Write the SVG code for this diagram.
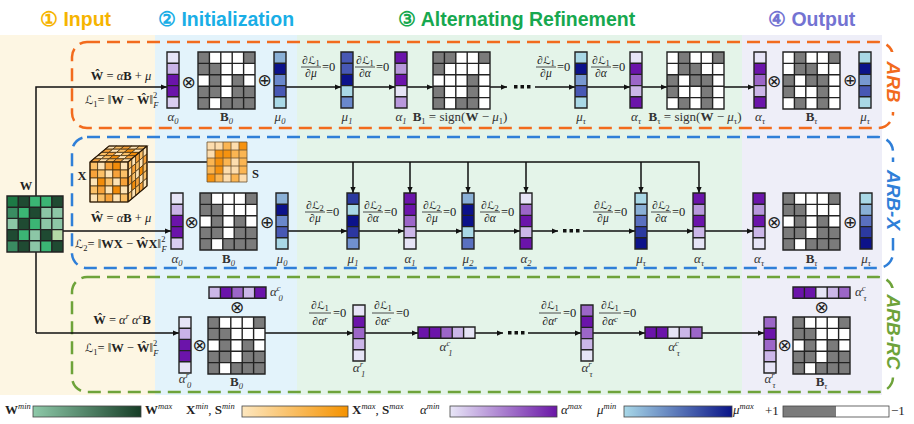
<svg xmlns="http://www.w3.org/2000/svg" xmlns:xlink="http://www.w3.org/1999/xlink" width="914" height="424" viewBox="0 0 914 424">
<style>
.ttl{font-family:"Liberation Sans",Arial,sans-serif;font-weight:bold;font-size:19.5px}
.m{font-family:"Liberation Serif","DejaVu Serif",serif;font-size:12.5px;fill:#222}
.fn{font-family:"Liberation Serif","DejaVu Serif",serif;font-size:11.5px;fill:#222;text-anchor:middle}
.lb{font-family:"Liberation Serif","DejaVu Serif",serif;font-style:italic;font-size:13px;fill:#333;text-anchor:middle}
.lg{font-family:"Liberation Serif","DejaVu Serif",serif;font-size:13px;fill:#222}
.i{font-style:italic}
.b{font-weight:bold}
.bn{font-weight:bold;font-style:normal}
.L{font-family:"DejaVu Serif","DejaVu Sans",serif;font-style:normal;font-weight:normal;font-size:0.92em}
.s{font-size:8.5px}
.fl{stroke:#222;stroke-width:0.8}
.grid{fill:none;stroke:#222;stroke-width:1.4}
.ln{fill:none;stroke:#111;stroke-width:1.5}
.op{font-family:"DejaVu Sans",sans-serif;font-size:17px;fill:#222;text-anchor:middle;dominant-baseline:central}
.box{fill:none;stroke-width:2.5;stroke-dasharray:13 7}
.tag{font-family:"Liberation Sans",Arial,sans-serif;font-weight:bold;font-style:italic;font-size:19px;text-anchor:middle;dominant-baseline:central}
.cube rect{vector-effect:non-scaling-stroke;stroke:#4a3412;stroke-width:0.8}
</style>
<defs>
<marker id="ah" viewBox="0 0 8 8" refX="8" refY="4" markerWidth="6" markerHeight="6" orient="auto" markerUnits="userSpaceOnUse"><path d="M0,0.5 L8,4 L0,7.5z" fill="#111"/></marker>
<path id="cg" class="grid" d="M0,0H12V56H0Z M0,11.2H12 M0,22.4H12 M0,33.6H12 M0,44.8H12"/>
<path id="rg" class="grid" d="M0,0H57V11.2H0Z M11.4,0V11.2 M22.8,0V11.2 M34.2,0V11.2 M45.6,0V11.2"/>
<path id="mg" class="grid" d="M0,0H57V57H0Z M11.4,0V57 M22.8,0V57 M34.2,0V57 M45.6,0V57 M0,11.4H57 M0,22.8H57 M0,34.2H57 M0,45.6H57"/>
<g id="bA"><rect width="57" height="57" fill="#fff"/><path fill="#7b7b7b" d="M0,0h11.4v11.4h-11.4z M45.6,0h11.4v11.4h-11.4z M0,11.4h22.8v11.4h-22.8z M11.4,22.8h11.4v11.4h-11.4z M34.2,22.8h11.4v11.4h-11.4z M0,34.2h22.8v11.4h-22.8z M34.2,34.2h22.8v11.4h-22.8z M0,45.6h11.4v11.4h-11.4z M22.8,45.6h34.2v11.4h-34.2z"/><use href="#mg"/></g>
<g id="bB1"><rect width="57" height="57" fill="#fff"/><path fill="#7b7b7b" d="M0,0h22.8v11.4h-22.8z M45.6,0h11.4v11.4h-11.4z M0,11.4h11.4v11.4h-11.4z M34.2,22.8h11.4v11.4h-11.4z M0,34.2h11.4v11.4h-11.4z M34.2,34.2h11.4v11.4h-11.4z M0,45.6h11.4v11.4h-11.4z M22.8,45.6h22.8v11.4h-22.8z"/><use href="#mg"/></g>
<g id="bBt"><rect width="57" height="57" fill="#fff"/><path fill="#7b7b7b" d="M11.4,0h11.4v11.4h-11.4z M45.6,0h11.4v11.4h-11.4z M11.4,11.4h22.8v11.4h-22.8z M0,22.8h11.4v11.4h-11.4z M22.8,22.8h22.8v11.4h-22.8z M0,34.2h11.4v11.4h-11.4z M34.2,34.2h11.4v11.4h-11.4z M11.4,45.6h11.4v11.4h-11.4z M34.2,45.6h11.4v11.4h-11.4z"/><use href="#mg"/></g>
<linearGradient id="gW"><stop offset="0" stop-color="#8ec9a9"/><stop offset="1" stop-color="#163d26"/></linearGradient>
<linearGradient id="gX"><stop offset="0" stop-color="#fde7bf"/><stop offset="1" stop-color="#f59200"/></linearGradient>
<linearGradient id="gA"><stop offset="0" stop-color="#e8e6f7"/><stop offset="1" stop-color="#6a16a6"/></linearGradient>
<linearGradient id="gM"><stop offset="0" stop-color="#a8d8e8"/><stop offset="1" stop-color="#0a1488"/></linearGradient>
</defs>

<!-- backgrounds -->
<rect x="0" y="35" width="155" height="360" fill="#fdf6e3"/>
<rect x="155" y="35" width="142" height="360" fill="#e3f3fb"/>
<rect x="297" y="35" width="445" height="360" fill="#e4f4e9"/>
<rect x="742" y="35" width="140" height="360" fill="#eeeef8"/>

<!-- titles -->
<text class="ttl" x="40" y="26" fill="#f6b400">① Input</text>
<text class="ttl" x="158" y="26" fill="#1aaee6">② Initialization</text>
<text class="ttl" x="398" y="26" fill="#17a84f">③ Alternating Refinement</text>
<text class="ttl" x="768" y="26" fill="#7373d2">④ Output</text>

<!-- dashed boxes -->
<g id="box-arb"><rect class="box" x="72" y="42" width="821" height="86" rx="15" stroke="#f26b1d"/><rect x="884" y="52" width="18" height="60" fill="#fff"/><text class="tag" transform="translate(893,82) rotate(90)" fill="#f26b1d">ARB</text></g>
<g id="box-arbx"><rect class="box" x="72" y="137" width="821" height="131" rx="15" stroke="#2f7fd8"/><rect x="884" y="162" width="18" height="76" fill="#fff"/><text class="tag" transform="translate(893,200) rotate(90)" fill="#2f7fd8">ARB-X</text></g>
<g id="box-arbrc"><rect class="box" x="72" y="277" width="821" height="115" rx="15" stroke="#6ea33a"/><rect x="884" y="288" width="18" height="88" fill="#fff"/><text class="tag" transform="translate(893,332) rotate(90)" fill="#6ea33a">ARB-RC</text></g>

<!-- connectors -->
<g id="connectors">
<path class="ln" d="M36,333 V87 H167" marker-end="url(#ah)"/>
<path class="ln" d="M36,333 H179" marker-end="url(#ah)"/>
<path class="ln" d="M63,231 H171" marker-end="url(#ah)"/>
<path class="ln" d="M286,87 H341" marker-end="url(#ah)"/>
<path class="ln" d="M353,87 H395" marker-end="url(#ah)"/>
<path class="ln" d="M407,87 H433" marker-end="url(#ah)"/>
<path class="ln" d="M490,87 H507" marker-end="url(#ah)"/>
<path class="ln" d="M535,87 H575" marker-end="url(#ah)"/>
<path class="ln" d="M587,87 H630" marker-end="url(#ah)"/>
<path class="ln" d="M642,87 H667" marker-end="url(#ah)"/>
<path class="ln" d="M724,87 H754" marker-end="url(#ah)"/>
<g fill="#111"><rect x="514" y="85" width="3.5" height="3.5"/><rect x="520.5" y="85" width="3.5" height="3.5"/><rect x="527" y="85" width="3.5" height="3.5"/></g>

<path class="ln" d="M148,162 H699 V193" marker-end="url(#ah)"/>
<path class="ln" d="M353,162 V193" marker-end="url(#ah)"/>
<path class="ln" d="M410,162 V193" marker-end="url(#ah)"/>
<path class="ln" d="M468,162 V193" marker-end="url(#ah)"/>
<path class="ln" d="M526,162 V193" marker-end="url(#ah)"/>
<path class="ln" d="M641,162 V193" marker-end="url(#ah)"/>
<path class="ln" d="M287,231 H347" marker-end="url(#ah)"/>
<path class="ln" d="M359,231 H404" marker-end="url(#ah)"/>
<path class="ln" d="M416,231 H462" marker-end="url(#ah)"/>
<path class="ln" d="M474,231 H520" marker-end="url(#ah)"/>
<path class="ln" d="M532,231 H558" marker-end="url(#ah)"/>
<path class="ln" d="M583,231 H635" marker-end="url(#ah)"/>
<path class="ln" d="M647,231 H693" marker-end="url(#ah)"/>
<path class="ln" d="M705,231 H753" marker-end="url(#ah)"/>
<g fill="#111"><rect x="563" y="229" width="3.5" height="3.5"/><rect x="569.5" y="229" width="3.5" height="3.5"/><rect x="576" y="229" width="3.5" height="3.5"/></g>

<path class="ln" d="M265,333 H353" marker-end="url(#ah)"/>
<path class="ln" d="M365,333 H418" marker-end="url(#ah)"/>
<path class="ln" d="M475,333 H503" marker-end="url(#ah)"/>
<path class="ln" d="M528,333 H581" marker-end="url(#ah)"/>
<path class="ln" d="M593,333 H645" marker-end="url(#ah)"/>
<path class="ln" d="M702,333 H764" marker-end="url(#ah)"/>
<g fill="#111"><rect x="508" y="331" width="3.5" height="3.5"/><rect x="514.5" y="331" width="3.5" height="3.5"/><rect x="521" y="331" width="3.5" height="3.5"/></g>
</g>

<!-- input W -->
<g id="W">
<text class="m b" x="26" y="190" text-anchor="middle" font-size="13">W</text>
<g transform="translate(7,196)">
<rect x="0" y="0" width="11.2" height="11.2" fill="#1d7a45"/><rect x="11.2" y="0" width="11.2" height="11.2" fill="#1f4a32"/><rect x="22.4" y="0" width="11.2" height="11.2" fill="#3bb574"/><rect x="33.6" y="0" width="11.2" height="11.2" fill="#3bb574"/><rect x="44.8" y="0" width="11.2" height="11.2" fill="#1f4a32"/>
<rect x="0" y="11.2" width="11.2" height="11.2" fill="#3a8c62"/><rect x="11.2" y="11.2" width="11.2" height="11.2" fill="#3bb574"/><rect x="22.4" y="11.2" width="11.2" height="11.2" fill="#1f4a32"/><rect x="33.6" y="11.2" width="11.2" height="11.2" fill="#8cc6a6"/><rect x="44.8" y="11.2" width="11.2" height="11.2" fill="#8cc6a6"/>
<rect x="0" y="22.4" width="11.2" height="11.2" fill="#8cc6a6"/><rect x="11.2" y="22.4" width="11.2" height="11.2" fill="#1f4a32"/><rect x="22.4" y="22.4" width="11.2" height="11.2" fill="#3bb574"/><rect x="33.6" y="22.4" width="11.2" height="11.2" fill="#8cc6a6"/><rect x="44.8" y="22.4" width="11.2" height="11.2" fill="#8cc6a6"/>
<rect x="0" y="33.6" width="11.2" height="11.2" fill="#1f4a32"/><rect x="11.2" y="33.6" width="11.2" height="11.2" fill="#3bb574"/><rect x="22.4" y="33.6" width="11.2" height="11.2" fill="#8cc6a6"/><rect x="33.6" y="33.6" width="11.2" height="11.2" fill="#1f4a32"/><rect x="44.8" y="33.6" width="11.2" height="11.2" fill="#b4d9a6"/>
<rect x="0" y="44.8" width="11.2" height="11.2" fill="#3a8c62"/><rect x="11.2" y="44.8" width="11.2" height="11.2" fill="#1f4a32"/><rect x="22.4" y="44.8" width="11.2" height="11.2" fill="#8cc6a6"/><rect x="33.6" y="44.8" width="11.2" height="11.2" fill="#3bb574"/><rect x="44.8" y="44.8" width="11.2" height="11.2" fill="#1f4a32"/>
<path class="grid" d="M0,0H56V56H0Z M11.2,0V56 M22.4,0V56 M33.6,0V56 M44.8,0V56 M0,11.2H56 M0,22.4H56 M0,33.6H56 M0,44.8H56"/>
</g>
</g>

<!-- ARB formulas -->
<g id="arb-formula">
<text class="m" x="121" y="80" text-anchor="middle"><tspan class="b">Ŵ</tspan> = <tspan class="i">α</tspan><tspan class="b">B</tspan> + <tspan class="i">μ</tspan></text>
<text class="m" x="85" y="104"><tspan class="L">ℒ</tspan><tspan class="s" dy="3">1</tspan><tspan dy="-3">= ‖</tspan><tspan class="b">W</tspan> − <tspan class="b">Ŵ</tspan>‖<tspan class="s" dy="-6">2</tspan><tspan class="s i" dx="-4" dy="10">F</tspan></text>
</g>

<!-- ARB row -->
<g id="arb-a0" transform="translate(167,52)"><rect y="0" width="12" height="11.2" fill="#e6e4f6"/><rect y="11.2" width="12" height="11.2" fill="#c9b3e7"/><rect y="22.4" width="12" height="11.2" fill="#6b14aa"/><rect y="33.6" width="12" height="11.2" fill="#6b14aa"/><rect y="44.8" width="12" height="11.2" fill="#d9cdf0"/><use href="#cg"/></g>
<text class="op" x="188.5" y="82">⊗</text>
<g id="arb-B0"><use href="#bA" x="198" y="52"/></g>
<text class="op" x="264.5" y="80">⊕</text>
<g id="arb-m0" transform="translate(274,52)"><rect y="0" width="12" height="11.2" fill="#8ab0d6"/><rect y="11.2" width="12" height="11.2" fill="#0c128a"/><rect y="22.4" width="12" height="11.2" fill="#6a88cc"/><rect y="33.6" width="12" height="11.2" fill="#4858b4"/><rect y="44.8" width="12" height="11.2" fill="#a9d8e6"/><use href="#cg"/></g>
<g id="arb-m1" transform="translate(341,52)"><rect y="0" width="12" height="11.2" fill="#4858b4"/><rect y="11.2" width="12" height="11.2" fill="#4858b4"/><rect y="22.4" width="12" height="11.2" fill="#0c128a"/><rect y="33.6" width="12" height="11.2" fill="#a9d8e6"/><rect y="44.8" width="12" height="11.2" fill="#6a88cc"/><use href="#cg"/></g>
<g id="arb-a1" transform="translate(395,52)"><rect y="0" width="12" height="11.2" fill="#6b14aa"/><rect y="11.2" width="12" height="11.2" fill="#b898dc"/><rect y="22.4" width="12" height="11.2" fill="#6b14aa"/><rect y="33.6" width="12" height="11.2" fill="#e6e4f6"/><rect y="44.8" width="12" height="11.2" fill="#b898dc"/><use href="#cg"/></g>
<g id="arb-B1"><use href="#bB1" x="433" y="52"/></g>
<g id="arb-mt" transform="translate(575,52)"><rect y="0" width="12" height="11.2" fill="#a9d8e6"/><rect y="11.2" width="12" height="11.2" fill="#0c128a"/><rect y="22.4" width="12" height="11.2" fill="#7898d0"/><rect y="33.6" width="12" height="11.2" fill="#4858b4"/><rect y="44.8" width="12" height="11.2" fill="#a9d8e6"/><use href="#cg"/></g>
<g id="arb-at" transform="translate(630,52)"><rect y="0" width="12" height="11.2" fill="#e6e4f6"/><rect y="11.2" width="12" height="11.2" fill="#6b14aa"/><rect y="22.4" width="12" height="11.2" fill="#9c66c8"/><rect y="33.6" width="12" height="11.2" fill="#cbb6e8"/><rect y="44.8" width="12" height="11.2" fill="#6b14aa"/><use href="#cg"/></g>
<g id="arb-Bt"><use href="#bBt" x="667" y="52"/></g>
<g id="arb-out-at" transform="translate(754,52)"><rect y="0" width="12" height="11.2" fill="#e6e4f6"/><rect y="11.2" width="12" height="11.2" fill="#6b14aa"/><rect y="22.4" width="12" height="11.2" fill="#9c66c8"/><rect y="33.6" width="12" height="11.2" fill="#cbb6e8"/><rect y="44.8" width="12" height="11.2" fill="#6b14aa"/><use href="#cg"/></g>
<text class="op" x="774" y="81">⊗</text>
<g id="arb-out-Bt"><use href="#bBt" x="783" y="52"/></g>
<text class="op" x="850" y="80">⊕</text>
<g id="arb-out-mt" transform="translate(859,52)"><rect y="0" width="12" height="11.2" fill="#a9d8e6"/><rect y="11.2" width="12" height="11.2" fill="#0c128a"/><rect y="22.4" width="12" height="11.2" fill="#7898d0"/><rect y="33.6" width="12" height="11.2" fill="#4858b4"/><rect y="44.8" width="12" height="11.2" fill="#a9d8e6"/><use href="#cg"/></g>

<!-- ARB labels -->
<text class="lb" x="173" y="121">α<tspan class="s" dy="3">0</tspan></text>
<text class="lb" x="226.5" y="121"><tspan class="bn">B</tspan><tspan class="s" dy="3">0</tspan></text>
<text class="lb" x="280" y="121">μ<tspan class="s" dy="3">0</tspan></text>
<text class="lb" x="347" y="121">μ<tspan class="s" dy="3">1</tspan></text>
<text class="lb" x="401" y="121">α<tspan class="s" dy="3">1</tspan></text>
<text class="lb" x="460" y="121" style="font-style:normal"><tspan class="bn">B</tspan><tspan class="s" dy="3">1</tspan><tspan dy="-3"> = sign(</tspan><tspan class="bn">W</tspan> − <tspan class="i">μ</tspan><tspan class="s" dy="3">1</tspan><tspan dy="-3">)</tspan></text>
<text class="lb" x="581" y="121">μ<tspan class="s" dy="3">τ</tspan></text>
<text class="lb" x="636" y="121">α<tspan class="s" dy="3">τ</tspan></text>
<text class="lb" x="695" y="121" style="font-style:normal"><tspan class="bn">B</tspan><tspan class="s" dy="3">τ</tspan><tspan dy="-3"> = sign(</tspan><tspan class="bn">W</tspan> − <tspan class="i">μ</tspan><tspan class="s" dy="3">τ</tspan><tspan dy="-3">)</tspan></text>
<text class="lb" x="760" y="121">α<tspan class="s" dy="3">τ</tspan></text>
<text class="lb" x="811.5" y="121"><tspan class="bn">B</tspan><tspan class="s" dy="3">τ</tspan></text>
<text class="lb" x="865" y="121">μ<tspan class="s" dy="3">τ</tspan></text>

<!-- ARB fractions -->
<g transform="translate(311,67)"><text class="fn" y="-3">∂<tspan class="L">ℒ</tspan><tspan class="s" dy="2">1</tspan></text><path class="fl" d="M-10,0H10"/><text class="fn i" y="10">∂μ</text><text class="m" x="11" y="4">=0</text></g>
<g transform="translate(365,67)"><text class="fn" y="-3">∂<tspan class="L">ℒ</tspan><tspan class="s" dy="2">1</tspan></text><path class="fl" d="M-10,0H10"/><text class="fn i" y="10">∂α</text><text class="m" x="11" y="4">=0</text></g>
<g transform="translate(546,67)"><text class="fn" y="-3">∂<tspan class="L">ℒ</tspan><tspan class="s" dy="2">1</tspan></text><path class="fl" d="M-10,0H10"/><text class="fn i" y="10">∂μ</text><text class="m" x="11" y="4">=0</text></g>
<g transform="translate(601,67)"><text class="fn" y="-3">∂<tspan class="L">ℒ</tspan><tspan class="s" dy="2">1</tspan></text><path class="fl" d="M-10,0H10"/><text class="fn i" y="10">∂α</text><text class="m" x="11" y="4">=0</text></g>

<!-- ARB-X -->
<g id="X">
<g class="cube" transform="matrix(7.6,0,-3.8,3.2,109,146)">
<rect x="0" y="0" width="1" height="1" fill="#fde3b5"/><rect x="1" y="0" width="1" height="1" fill="#fbc067"/><rect x="2" y="0" width="1" height="1" fill="#f7a23a"/><rect x="3" y="0" width="1" height="1" fill="#fde3b5"/><rect x="4" y="0" width="1" height="1" fill="#fbc067"/>
<rect x="0" y="1" width="1" height="1" fill="#f7a23a"/><rect x="1" y="1" width="1" height="1" fill="#fde3b5"/><rect x="2" y="1" width="1" height="1" fill="#fbc067"/><rect x="3" y="1" width="1" height="1" fill="#f28c0a"/><rect x="4" y="1" width="1" height="1" fill="#fde3b5"/>
<rect x="0" y="2" width="1" height="1" fill="#fbc067"/><rect x="1" y="2" width="1" height="1" fill="#f7a23a"/><rect x="2" y="2" width="1" height="1" fill="#fde3b5"/><rect x="3" y="2" width="1" height="1" fill="#fbc067"/><rect x="4" y="2" width="1" height="1" fill="#f28c0a"/>
<rect x="0" y="3" width="1" height="1" fill="#fde3b5"/><rect x="1" y="3" width="1" height="1" fill="#fbc067"/><rect x="2" y="3" width="1" height="1" fill="#f28c0a"/><rect x="3" y="3" width="1" height="1" fill="#fde3b5"/><rect x="4" y="3" width="1" height="1" fill="#f7a23a"/>
<rect x="0" y="4" width="1" height="1" fill="#f7a23a"/><rect x="1" y="4" width="1" height="1" fill="#fde3b5"/><rect x="2" y="4" width="1" height="1" fill="#fbc067"/><rect x="3" y="4" width="1" height="1" fill="#f7a23a"/><rect x="4" y="4" width="1" height="1" fill="#fde3b5"/>
</g>
<g class="cube" transform="matrix(3.8,-3.2,0,8,128,162)">
<rect x="0" y="0" width="1" height="1" fill="#fbc067"/><rect x="1" y="0" width="1" height="1" fill="#fde3b5"/><rect x="2" y="0" width="1" height="1" fill="#f7a23a"/><rect x="3" y="0" width="1" height="1" fill="#fbc067"/><rect x="4" y="0" width="1" height="1" fill="#fde3b5"/>
<rect x="0" y="1" width="1" height="1" fill="#fde3b5"/><rect x="1" y="1" width="1" height="1" fill="#f7a23a"/><rect x="2" y="1" width="1" height="1" fill="#fbc067"/><rect x="3" y="1" width="1" height="1" fill="#fde3b5"/><rect x="4" y="1" width="1" height="1" fill="#f7a23a"/>
<rect x="0" y="2" width="1" height="1" fill="#f7a23a"/><rect x="1" y="2" width="1" height="1" fill="#fbc067"/><rect x="2" y="2" width="1" height="1" fill="#fde3b5"/><rect x="3" y="2" width="1" height="1" fill="#f28c0a"/><rect x="4" y="2" width="1" height="1" fill="#fbc067"/>
<rect x="0" y="3" width="1" height="1" fill="#fde3b5"/><rect x="1" y="3" width="1" height="1" fill="#f28c0a"/><rect x="2" y="3" width="1" height="1" fill="#f7a23a"/><rect x="3" y="3" width="1" height="1" fill="#fde3b5"/><rect x="4" y="3" width="1" height="1" fill="#fbc067"/>
<rect x="0" y="4" width="1" height="1" fill="#fbc067"/><rect x="1" y="4" width="1" height="1" fill="#fde3b5"/><rect x="2" y="4" width="1" height="1" fill="#fbc067"/><rect x="3" y="4" width="1" height="1" fill="#f7a23a"/><rect x="4" y="4" width="1" height="1" fill="#fde3b5"/>
</g>
<g class="cube" transform="matrix(7.6,0,0,8,90,162)">
<rect x="0" y="0" width="1" height="1" fill="#fbc067"/><rect x="1" y="0" width="1" height="1" fill="#fde3b5"/><rect x="2" y="0" width="1" height="1" fill="#f7a23a"/><rect x="3" y="0" width="1" height="1" fill="#f28c0a"/><rect x="4" y="0" width="1" height="1" fill="#fde3b5"/>
<rect x="0" y="1" width="1" height="1" fill="#f7a23a"/><rect x="1" y="1" width="1" height="1" fill="#fbc067"/><rect x="2" y="1" width="1" height="1" fill="#fde3b5"/><rect x="3" y="1" width="1" height="1" fill="#f7a23a"/><rect x="4" y="1" width="1" height="1" fill="#fbc067"/>
<rect x="0" y="2" width="1" height="1" fill="#fde3b5"/><rect x="1" y="2" width="1" height="1" fill="#f28c0a"/><rect x="2" y="2" width="1" height="1" fill="#fbc067"/><rect x="3" y="2" width="1" height="1" fill="#fde3b5"/><rect x="4" y="2" width="1" height="1" fill="#f7a23a"/>
<rect x="0" y="3" width="1" height="1" fill="#fbc067"/><rect x="1" y="3" width="1" height="1" fill="#f7a23a"/><rect x="2" y="3" width="1" height="1" fill="#fde3b5"/><rect x="3" y="3" width="1" height="1" fill="#f28c0a"/><rect x="4" y="3" width="1" height="1" fill="#fde3b5"/>
<rect x="0" y="4" width="1" height="1" fill="#fde3b5"/><rect x="1" y="4" width="1" height="1" fill="#fbc067"/><rect x="2" y="4" width="1" height="1" fill="#f7a23a"/><rect x="3" y="4" width="1" height="1" fill="#fde3b5"/><rect x="4" y="4" width="1" height="1" fill="#fbc067"/>
</g>
<path d="M90,162 H128 V202 H90 Z M90,162 L109,146 H147 L128,162 M147,146 V186 L128,202" fill="none" stroke="#2a1a08" stroke-width="1.2"/>
<text class="m b" x="82" y="180" text-anchor="middle" font-size="13">X</text>
</g>

<g id="S">
<g transform="translate(207,142)">
<rect x="0" y="0" width="8" height="8" fill="#fdddae"/><rect x="8" y="0" width="8" height="8" fill="#fdddae"/><rect x="16" y="0" width="8" height="8" fill="#fbb552"/><rect x="24" y="0" width="8" height="8" fill="#fdddae"/><rect x="32" y="0" width="8" height="8" fill="#f6920f"/>
<rect x="0" y="8" width="8" height="8" fill="#fdddae"/><rect x="8" y="8" width="8" height="8" fill="#f6920f"/><rect x="16" y="8" width="8" height="8" fill="#f6920f"/><rect x="24" y="8" width="8" height="8" fill="#fbb552"/><rect x="32" y="8" width="8" height="8" fill="#fbb552"/>
<rect x="0" y="16" width="8" height="8" fill="#fbb552"/><rect x="8" y="16" width="8" height="8" fill="#f6920f"/><rect x="16" y="16" width="8" height="8" fill="#fbb552"/><rect x="24" y="16" width="8" height="8" fill="#fdddae"/><rect x="32" y="16" width="8" height="8" fill="#fbb552"/>
<rect x="0" y="24" width="8" height="8" fill="#fbb552"/><rect x="8" y="24" width="8" height="8" fill="#f6920f"/><rect x="16" y="24" width="8" height="8" fill="#fdddae"/><rect x="24" y="24" width="8" height="8" fill="#fdddae"/><rect x="32" y="24" width="8" height="8" fill="#fbb552"/>
<rect x="0" y="32" width="8" height="8" fill="#f6920f"/><rect x="8" y="32" width="8" height="8" fill="#fbb552"/><rect x="16" y="32" width="8" height="8" fill="#fdddae"/><rect x="24" y="32" width="8" height="8" fill="#fbb552"/><rect x="32" y="32" width="8" height="8" fill="#fdddae"/>
<path d="M0,0H40V40H0Z M8,0V40 M16,0V40 M24,0V40 M32,0V40 M0,8H40 M0,16H40 M0,24H40 M0,32H40" fill="none" stroke="#6a5030" stroke-width="0.8"/>
</g>
<text class="m b" x="252" y="178" font-size="13">S</text>
</g>

<g id="arbx-formula">
<text class="m" x="121" y="222" text-anchor="middle"><tspan class="b">Ŵ</tspan> = <tspan class="i">α</tspan><tspan class="b">B</tspan> + <tspan class="i">μ</tspan></text>
<text class="m" x="75" y="248"><tspan class="L">ℒ</tspan><tspan class="s" dy="3">2</tspan><tspan dy="-3">= ‖</tspan><tspan class="b">WX</tspan> − <tspan class="b">ŴX</tspan>‖<tspan class="s" dy="-6">2</tspan><tspan class="s i" dx="-4" dy="10">F</tspan></text>
</g>

<g id="arbx-a0" transform="translate(171,193)"><rect y="0" width="12" height="11.2" fill="#e6e4f6"/><rect y="11.2" width="12" height="11.2" fill="#c9b3e7"/><rect y="22.4" width="12" height="11.2" fill="#6b14aa"/><rect y="33.6" width="12" height="11.2" fill="#6b14aa"/><rect y="44.8" width="12" height="11.2" fill="#d9cdf0"/><use href="#cg"/></g>
<text class="op" x="191.5" y="222">⊗</text>
<g id="arbx-B0"><use href="#bA" x="200" y="193"/></g>
<text class="op" x="267" y="222">⊕</text>
<g id="arbx-m0" transform="translate(276,193)"><rect y="0" width="12" height="11.2" fill="#8ab0d6"/><rect y="11.2" width="12" height="11.2" fill="#0c128a"/><rect y="22.4" width="12" height="11.2" fill="#6a88cc"/><rect y="33.6" width="12" height="11.2" fill="#4858b4"/><rect y="44.8" width="12" height="11.2" fill="#a9d8e6"/><use href="#cg"/></g>
<g id="arbx-m1" transform="translate(347,193)"><rect y="0" width="12" height="11.2" fill="#2c3aa0"/><rect y="11.2" width="12" height="11.2" fill="#a9d8e6"/><rect y="22.4" width="12" height="11.2" fill="#0c128a"/><rect y="33.6" width="12" height="11.2" fill="#2c36a0"/><rect y="44.8" width="12" height="11.2" fill="#7090d0"/><use href="#cg"/></g>
<g id="arbx-a1" transform="translate(404,193)"><rect y="0" width="12" height="11.2" fill="#6b14aa"/><rect y="11.2" width="12" height="11.2" fill="#6b14aa"/><rect y="22.4" width="12" height="11.2" fill="#9c66c8"/><rect y="33.6" width="12" height="11.2" fill="#cbb6e8"/><rect y="44.8" width="12" height="11.2" fill="#e6e4f6"/><use href="#cg"/></g>
<g id="arbx-m2" transform="translate(462,193)"><rect y="0" width="12" height="11.2" fill="#8ab0d6"/><rect y="11.2" width="12" height="11.2" fill="#0c128a"/><rect y="22.4" width="12" height="11.2" fill="#0c128a"/><rect y="33.6" width="12" height="11.2" fill="#a9d8e6"/><rect y="44.8" width="12" height="11.2" fill="#5a70c0"/><use href="#cg"/></g>
<g id="arbx-a2" transform="translate(520,193)"><rect y="0" width="12" height="11.2" fill="#e6e4f6"/><rect y="11.2" width="12" height="11.2" fill="#9c66c8"/><rect y="22.4" width="12" height="11.2" fill="#6b14aa"/><rect y="33.6" width="12" height="11.2" fill="#cbb6e8"/><rect y="44.8" width="12" height="11.2" fill="#6b14aa"/><use href="#cg"/></g>
<g id="arbx-mt" transform="translate(635,193)"><rect y="0" width="12" height="11.2" fill="#a9d8e6"/><rect y="11.2" width="12" height="11.2" fill="#8ab0d6"/><rect y="22.4" width="12" height="11.2" fill="#5a70c0"/><rect y="33.6" width="12" height="11.2" fill="#2c3aa0"/><rect y="44.8" width="12" height="11.2" fill="#0c128a"/><use href="#cg"/></g>
<g id="arbx-at" transform="translate(693,193)"><rect y="0" width="12" height="11.2" fill="#6b14aa"/><rect y="11.2" width="12" height="11.2" fill="#b898dc"/><rect y="22.4" width="12" height="11.2" fill="#6b14aa"/><rect y="33.6" width="12" height="11.2" fill="#cbb6e8"/><rect y="44.8" width="12" height="11.2" fill="#e6e4f6"/><use href="#cg"/></g>
<g id="arbx-out-at" transform="translate(753,193)"><rect y="0" width="12" height="11.2" fill="#6b14aa"/><rect y="11.2" width="12" height="11.2" fill="#b898dc"/><rect y="22.4" width="12" height="11.2" fill="#6b14aa"/><rect y="33.6" width="12" height="11.2" fill="#cbb6e8"/><rect y="44.8" width="12" height="11.2" fill="#e6e4f6"/><use href="#cg"/></g>
<text class="op" x="774" y="222">⊗</text>
<g id="arbx-out-Bt"><use href="#bA" x="783" y="193"/></g>
<text class="op" x="850" y="222">⊕</text>
<g id="arbx-out-mt" transform="translate(860,193)"><rect y="0" width="12" height="11.2" fill="#a9d8e6"/><rect y="11.2" width="12" height="11.2" fill="#8ab0d6"/><rect y="22.4" width="12" height="11.2" fill="#5a70c0"/><rect y="33.6" width="12" height="11.2" fill="#2c3aa0"/><rect y="44.8" width="12" height="11.2" fill="#0c128a"/><use href="#cg"/></g>

<text class="lb" x="177" y="263">α<tspan class="s" dy="3">0</tspan></text>
<text class="lb" x="228.5" y="263"><tspan class="bn">B</tspan><tspan class="s" dy="3">0</tspan></text>
<text class="lb" x="282" y="263">μ<tspan class="s" dy="3">0</tspan></text>
<text class="lb" x="353" y="263">μ<tspan class="s" dy="3">1</tspan></text>
<text class="lb" x="410" y="263">α<tspan class="s" dy="3">1</tspan></text>
<text class="lb" x="468" y="263">μ<tspan class="s" dy="3">2</tspan></text>
<text class="lb" x="526" y="263">α<tspan class="s" dy="3">2</tspan></text>
<text class="lb" x="641" y="263">μ<tspan class="s" dy="3">τ</tspan></text>
<text class="lb" x="699" y="263">α<tspan class="s" dy="3">τ</tspan></text>
<text class="lb" x="759" y="263">α<tspan class="s" dy="3">τ</tspan></text>
<text class="lb" x="811.5" y="263"><tspan class="bn">B</tspan><tspan class="s" dy="3">τ</tspan></text>
<text class="lb" x="866" y="263">μ<tspan class="s" dy="3">τ</tspan></text>

<g transform="translate(315,212)"><text class="fn" y="-3">∂<tspan class="L">ℒ</tspan><tspan class="s" dy="2">2</tspan></text><path class="fl" d="M-10,0H10"/><text class="fn i" y="10">∂μ</text><text class="m" x="11" y="4">=0</text></g>
<g transform="translate(373,212)"><text class="fn" y="-3">∂<tspan class="L">ℒ</tspan><tspan class="s" dy="2">2</tspan></text><path class="fl" d="M-10,0H10"/><text class="fn i" y="10">∂α</text><text class="m" x="11" y="4">=0</text></g>
<g transform="translate(432,212)"><text class="fn" y="-3">∂<tspan class="L">ℒ</tspan><tspan class="s" dy="2">2</tspan></text><path class="fl" d="M-10,0H10"/><text class="fn i" y="10">∂μ</text><text class="m" x="11" y="4">=0</text></g>
<g transform="translate(490,212)"><text class="fn" y="-3">∂<tspan class="L">ℒ</tspan><tspan class="s" dy="2">2</tspan></text><path class="fl" d="M-10,0H10"/><text class="fn i" y="10">∂α</text><text class="m" x="11" y="4">=0</text></g>
<g transform="translate(603,212)"><text class="fn" y="-3">∂<tspan class="L">ℒ</tspan><tspan class="s" dy="2">2</tspan></text><path class="fl" d="M-10,0H10"/><text class="fn i" y="10">∂μ</text><text class="m" x="11" y="4">=0</text></g>
<g transform="translate(661,212)"><text class="fn" y="-3">∂<tspan class="L">ℒ</tspan><tspan class="s" dy="2">2</tspan></text><path class="fl" d="M-10,0H10"/><text class="fn i" y="10">∂α</text><text class="m" x="11" y="4">=0</text></g>

<!-- ARB-RC -->
<g id="arbrc-formula">
<text class="m" x="122" y="324" text-anchor="middle"><tspan class="b">Ŵ</tspan> = <tspan class="i">α</tspan><tspan class="s i" dy="-5">r</tspan><tspan class="i" dy="5"> α</tspan><tspan class="s i" dy="-5">c</tspan><tspan class="b" dy="5">B</tspan></text>
<text class="m" x="85" y="352"><tspan class="L">ℒ</tspan><tspan class="s" dy="3">1</tspan><tspan dy="-3">= ‖</tspan><tspan class="b">W</tspan> − <tspan class="b">Ŵ</tspan>‖<tspan class="s" dy="-6">2</tspan><tspan class="s i" dx="-4" dy="10">F</tspan></text>
</g>

<g id="arbrc-ar0" transform="translate(179,317)"><rect y="0" width="12" height="11.2" fill="#e6e4f6"/><rect y="11.2" width="12" height="11.2" fill="#c9b3e7"/><rect y="22.4" width="12" height="11.2" fill="#6b14aa"/><rect y="33.6" width="12" height="11.2" fill="#6b14aa"/><rect y="44.8" width="12" height="11.2" fill="#e6e4f6"/><use href="#cg"/></g>
<text class="op" x="199.5" y="345">⊗</text>
<g id="arbrc-B0"><use href="#bA" x="208" y="317"/></g>
<g id="arbrc-ac0" transform="translate(209,287)"><rect x="0" width="11.4" height="11.2" fill="#cbb6e8"/><rect x="11.4" width="11.4" height="11.2" fill="#6b14aa"/><rect x="22.8" width="11.4" height="11.2" fill="#9c66c8"/><rect x="34.2" width="11.4" height="11.2" fill="#cbb6e8"/><rect x="45.6" width="11.4" height="11.2" fill="#6b14aa"/><use href="#rg"/></g>
<text class="op" x="237" y="307">⊗</text>
<g id="arbrc-ar1" transform="translate(353,305)"><rect y="0" width="12" height="11.2" fill="#e6e4f6"/><rect y="11.2" width="12" height="11.2" fill="#6b14aa"/><rect y="22.4" width="12" height="11.2" fill="#9c66c8"/><rect y="33.6" width="12" height="11.2" fill="#cbb6e8"/><rect y="44.8" width="12" height="11.2" fill="#e6e4f6"/><use href="#cg"/></g>
<g id="arbrc-ac1" transform="translate(418,327)"><rect x="0" width="11.4" height="11.2" fill="#6b14aa"/><rect x="11.4" width="11.4" height="11.2" fill="#6b14aa"/><rect x="22.8" width="11.4" height="11.2" fill="#9c66c8"/><rect x="34.2" width="11.4" height="11.2" fill="#cbb6e8"/><rect x="45.6" width="11.4" height="11.2" fill="#e6e4f6"/><use href="#rg"/></g>
<g id="arbrc-art" transform="translate(581,305)"><rect y="0" width="12" height="11.2" fill="#9c66c8"/><rect y="11.2" width="12" height="11.2" fill="#6b14aa"/><rect y="22.4" width="12" height="11.2" fill="#9c66c8"/><rect y="33.6" width="12" height="11.2" fill="#cbb6e8"/><rect y="44.8" width="12" height="11.2" fill="#e6e4f6"/><use href="#cg"/></g>
<g id="arbrc-act" transform="translate(645,327)"><rect x="0" width="11.4" height="11.2" fill="#6b14aa"/><rect x="11.4" width="11.4" height="11.2" fill="#6b14aa"/><rect x="22.8" width="11.4" height="11.2" fill="#e6e4f6"/><rect x="34.2" width="11.4" height="11.2" fill="#cbb6e8"/><rect x="45.6" width="11.4" height="11.2" fill="#9c66c8"/><use href="#rg"/></g>
<g id="arbrc-out-art" transform="translate(764,317)"><rect y="0" width="12" height="11.2" fill="#9c66c8"/><rect y="11.2" width="12" height="11.2" fill="#6b14aa"/><rect y="22.4" width="12" height="11.2" fill="#9c66c8"/><rect y="33.6" width="12" height="11.2" fill="#cbb6e8"/><rect y="44.8" width="12" height="11.2" fill="#e6e4f6"/><use href="#cg"/></g>
<text class="op" x="784.5" y="345">⊗</text>
<g id="arbrc-out-Bt"><use href="#bA" x="793" y="317"/></g>
<g id="arbrc-out-act" transform="translate(793,287)"><rect x="0" width="11.4" height="11.2" fill="#6b14aa"/><rect x="11.4" width="11.4" height="11.2" fill="#6b14aa"/><rect x="22.8" width="11.4" height="11.2" fill="#e6e4f6"/><rect x="34.2" width="11.4" height="11.2" fill="#cbb6e8"/><rect x="45.6" width="11.4" height="11.2" fill="#9c66c8"/><use href="#rg"/></g>
<text class="op" x="821.5" y="307">⊗</text>

<text class="lb" x="185" y="383">α<tspan class="s" dy="-5">r</tspan><tspan class="s" dx="-2" dy="10">0</tspan></text>
<text class="lb" x="236.5" y="386"><tspan class="bn">B</tspan><tspan class="s" dy="3">0</tspan></text>
<text class="lb" x="270" y="296" style="text-anchor:start">α<tspan class="s" dy="-5">c</tspan><tspan class="s" dx="-2" dy="10">0</tspan></text>
<text class="lb" x="359" y="372">α<tspan class="s" dy="-5">r</tspan><tspan class="s" dx="-2" dy="10">1</tspan></text>
<text class="lb" x="446" y="351">α<tspan class="s" dy="-5">c</tspan><tspan class="s" dx="-2" dy="10">1</tspan></text>
<text class="lb" x="587" y="372">α<tspan class="s" dy="-5">r</tspan><tspan class="s" dx="-2" dy="10">τ</tspan></text>
<text class="lb" x="674" y="351">α<tspan class="s" dy="-5">c</tspan><tspan class="s" dx="-2" dy="10">τ</tspan></text>
<text class="lb" x="770" y="383">α<tspan class="s" dy="-5">r</tspan><tspan class="s" dx="-2" dy="10">τ</tspan></text>
<text class="lb" x="821.5" y="386"><tspan class="bn">B</tspan><tspan class="s" dy="3">τ</tspan></text>
<text class="lb" x="855" y="296" style="text-anchor:start">α<tspan class="s" dy="-5">c</tspan><tspan class="s" dx="-2" dy="10">τ</tspan></text>

<g transform="translate(320,313)"><text class="fn" y="-4">∂<tspan class="L">ℒ</tspan><tspan class="s" dy="2">1</tspan></text><path class="fl" d="M-11,0H11"/><text class="fn i" y="12">∂α<tspan class="s" dy="-3">r</tspan></text><text class="m" x="13" y="4">=0</text></g>
<g transform="translate(383,313)"><text class="fn" y="-4">∂<tspan class="L">ℒ</tspan><tspan class="s" dy="2">1</tspan></text><path class="fl" d="M-11,0H11"/><text class="fn i" y="12">∂α<tspan class="s" dy="-3">c</tspan></text><text class="m" x="13" y="4">=0</text></g>
<g transform="translate(550,313)"><text class="fn" y="-4">∂<tspan class="L">ℒ</tspan><tspan class="s" dy="2">1</tspan></text><path class="fl" d="M-11,0H11"/><text class="fn i" y="12">∂α<tspan class="s" dy="-3">r</tspan></text><text class="m" x="13" y="4">=0</text></g>
<g transform="translate(610,313)"><text class="fn" y="-4">∂<tspan class="L">ℒ</tspan><tspan class="s" dy="2">1</tspan></text><path class="fl" d="M-11,0H11"/><text class="fn i" y="12">∂α<tspan class="s" dy="-3">c</tspan></text><text class="m" x="13" y="4">=0</text></g>

<!-- legend -->
<g id="legend">
<text class="lg" x="5" y="414"><tspan class="b">W</tspan><tspan class="s i" dy="-5">min</tspan></text>
<rect x="33" y="406" width="108" height="11" fill="url(#gW)" stroke="#444" stroke-width="0.8"/>
<text class="lg" x="145" y="414"><tspan class="b">W</tspan><tspan class="s i" dy="-5">max</tspan></text>
<text class="lg" x="186" y="414"><tspan class="b">X</tspan><tspan class="s i" dy="-5">min</tspan><tspan dy="5">, </tspan><tspan class="b">S</tspan><tspan class="s i" dy="-5">min</tspan></text>
<rect x="242" y="406" width="106" height="11" fill="url(#gX)" stroke="#444" stroke-width="0.8"/>
<text class="lg" x="352" y="414"><tspan class="b">X</tspan><tspan class="s i" dy="-5">max</tspan><tspan dy="5">, </tspan><tspan class="b">S</tspan><tspan class="s i" dy="-5">max</tspan></text>
<text class="lg i" x="420" y="414">α<tspan class="s" dy="-5">min</tspan></text>
<rect x="450" y="406" width="107" height="11" fill="url(#gA)" stroke="#444" stroke-width="0.8"/>
<text class="lg i" x="561" y="414">α<tspan class="s" dy="-5">max</tspan></text>
<text class="lg i" x="597" y="414">μ<tspan class="s" dy="-5">min</tspan></text>
<rect x="624" y="406" width="108" height="11" fill="url(#gM)" stroke="#444" stroke-width="0.8"/>
<text class="lg i" x="733" y="414">μ<tspan class="s" dy="-5">max</tspan></text>
<text class="lg" x="765" y="415">+1</text>
<rect x="783" y="406" width="53" height="11" fill="#7b7b7b"/>
<rect x="783" y="406" width="106" height="11" fill="none" stroke="#444" stroke-width="0.8"/>
<text class="lg" x="891" y="415">−1</text>
</g>
</svg>
